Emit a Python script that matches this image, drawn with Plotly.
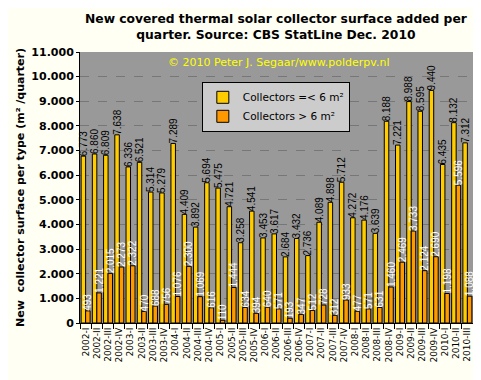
import plotly.graph_objects as go

quarters = [f"{y}-{q}" for y in range(2002, 2011) for q in ["I", "II", "III", "IV"]][:35]
small = [6773, 6860, 6809, 7638, 6336, 6521, 5314, 5279, 7289, 4409, 3892, 5694,
         5475, 4721, 3258, 4541, 3453, 3617, 2684, 3432, 2736, 4089, 4898, 5712,
         4272, 4176, 3639, 8188, 7221, 8988, 8595, 9440, 6435, 8132, 7312]
large = [493, 1221, 2015, 2273, 2322, 470, 688, 756, 1076, 2300, 1069, 616,
         110, 1444, 634, 394, 640, 571, 193, 347, 512, 728, 312, 933,
         477, 571, 631, 1460, 2469, 3733, 2124, 2690, 1198, 5596, 1088]

fig = go.Figure()
fig.add_trace(go.Bar(
    x=quarters, y=small, name="Collectors =< 6 m²",
    marker=dict(color="#FFCC00", line=dict(color="black", width=1)),
    texttemplate="%{y:,}", textposition="outside", textangle=-90,
    textfont=dict(family="Liberation Sans", size=10, color="black"),
    cliponaxis=False, constraintext="none"))
fig.add_trace(go.Bar(
    x=quarters, y=large, name="Collectors > 6 m²",
    marker=dict(color="#FF9900", line=dict(color="black", width=1)),
    texttemplate="%{y:,}", textposition="outside", textangle=-90,
    textfont=dict(family="Liberation Sans", size=10, color="white"),
    cliponaxis=False, constraintext="none"))

fig.update_layout(
    width=481, height=380,
    margin=dict(l=72, r=16, t=44, b=65),
    paper_bgcolor="#FFFFF4", plot_bgcolor="#999999",
    separators=",.",
    barmode="group", bargap=0.2, bargroupgap=0.0,
    legend=dict(x=0.31, y=0.89, xanchor="left", yanchor="top",
                bgcolor="#CCCCCC", bordercolor="black", borderwidth=1,
                font=dict(family="DejaVu Sans", size=10.5, color="black"),
                itemwidth=30, tracegroupgap=0),
    showlegend=True,
    font=dict(family="DejaVu Sans", color="black"),
    annotations=[
        dict(text="<b>New covered thermal solar collector surface added per<br>quarter. Source: CBS StatLine Dec. 2010</b>",
             xref="paper", yref="paper", x=0.5, y=1.155, xanchor="center", yanchor="top",
             showarrow=False, align="center",
             font=dict(family="DejaVu Sans", size=12.3, color="black")),
        dict(text="© 2010 Peter J. Segaar/www.polderpv.nl", xref="paper", yref="paper",
             x=0.504, y=0.96, xanchor="center", yanchor="middle", showarrow=False,
             font=dict(family="DejaVu Sans", size=11, color="#FFFF00"))],
)
fig.update_xaxes(type="category", tickmode="linear", dtick=1, tickangle=-90,
                 tickson="boundaries", ticks="outside", automargin=False,
                 ticklen=5, tickcolor="black", showline=True, linecolor="black", linewidth=1,
                 tickfont=dict(family="DejaVu Sans", size=9, color="black"), showgrid=False)
fig.update_yaxes(range=[0, 11000], dtick=1000, tickformat=",", ticks="outside", ticklen=3,
                 tickcolor="black", showline=True, linecolor="black", linewidth=1, automargin=False,
                 showgrid=True, gridcolor="#777777", griddash="dash", gridwidth=1, zeroline=False,
                 tickfont=dict(family="DejaVu Sans", size=11, color="black"),
                 tickprefix="<b>", ticksuffix="</b>",
                 title=dict(text="<b>New  collector surface per type (m² /quarter)</b>", standoff=4,
                            font=dict(family="DejaVu Sans", size=11, color="black")))

fig.write_html("out.html")
